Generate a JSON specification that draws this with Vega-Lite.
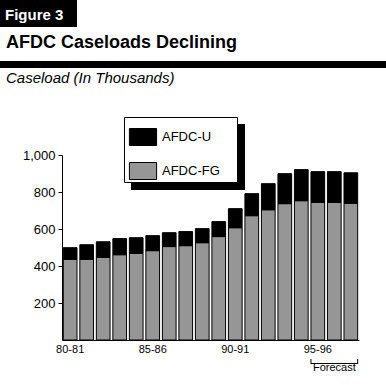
{
  "$schema": "https://vega.github.io/schema/vega-lite/v6.json",
  "autosize": "none",
  "width": 297,
  "height": 185,
  "padding": {"left": 62, "top": 155, "right": 27, "bottom": 45},
  "background": "white",
  "config": {
    "view": {"stroke": null},
    "font": "Liberation Sans",
    "text": {"font": "Liberation Sans", "color": "black"}
  },
  "datasets": {
    "bars": [
      {"year": "80-81", "series": "AFDC-FG", "caseload": 436},
      {"year": "80-81", "series": "AFDC-U", "caseload": 63},
      {"year": "81-82", "series": "AFDC-FG", "caseload": 436},
      {"year": "81-82", "series": "AFDC-U", "caseload": 79},
      {"year": "82-83", "series": "AFDC-FG", "caseload": 447},
      {"year": "82-83", "series": "AFDC-U", "caseload": 84},
      {"year": "83-84", "series": "AFDC-FG", "caseload": 461},
      {"year": "83-84", "series": "AFDC-U", "caseload": 87},
      {"year": "84-85", "series": "AFDC-FG", "caseload": 468},
      {"year": "84-85", "series": "AFDC-U", "caseload": 85},
      {"year": "85-86", "series": "AFDC-FG", "caseload": 483},
      {"year": "85-86", "series": "AFDC-U", "caseload": 81},
      {"year": "86-87", "series": "AFDC-FG", "caseload": 505},
      {"year": "86-87", "series": "AFDC-U", "caseload": 75},
      {"year": "87-88", "series": "AFDC-FG", "caseload": 510},
      {"year": "87-88", "series": "AFDC-U", "caseload": 76},
      {"year": "88-89", "series": "AFDC-FG", "caseload": 526},
      {"year": "88-89", "series": "AFDC-U", "caseload": 76},
      {"year": "89-90", "series": "AFDC-FG", "caseload": 559},
      {"year": "89-90", "series": "AFDC-U", "caseload": 81},
      {"year": "90-91", "series": "AFDC-FG", "caseload": 607},
      {"year": "90-91", "series": "AFDC-U", "caseload": 103},
      {"year": "91-92", "series": "AFDC-FG", "caseload": 672},
      {"year": "91-92", "series": "AFDC-U", "caseload": 119},
      {"year": "92-93", "series": "AFDC-FG", "caseload": 704},
      {"year": "92-93", "series": "AFDC-U", "caseload": 141},
      {"year": "93-94", "series": "AFDC-FG", "caseload": 737},
      {"year": "93-94", "series": "AFDC-U", "caseload": 162},
      {"year": "94-95", "series": "AFDC-FG", "caseload": 753},
      {"year": "94-95", "series": "AFDC-U", "caseload": 168},
      {"year": "95-96", "series": "AFDC-FG", "caseload": 744},
      {"year": "95-96", "series": "AFDC-U", "caseload": 166},
      {"year": "96-97", "series": "AFDC-FG", "caseload": 744},
      {"year": "96-97", "series": "AFDC-U", "caseload": 166},
      {"year": "97-98", "series": "AFDC-FG", "caseload": 739},
      {"year": "97-98", "series": "AFDC-U", "caseload": 165}
    ],
    "one": [{"k": 1}],
    "forecast": [{"from": "95-96", "to": "97-98", "mid": "96-97", "label": "Forecast"}]
  },
  "layer": [
    {
      "data": {"name": "bars"},
      "mark": {"type": "bar", "stroke": "black", "strokeWidth": 1},
      "encoding": {
        "x": {
          "field": "year", "type": "nominal", "sort": null,
          "scale": {"paddingInner": 0.17, "paddingOuter": 0.08},
          "axis": {
            "title": null, "labelAngle": 0, "ticks": false,
            "values": ["80-81", "85-86", "90-91", "95-96"],
            "labelFont": "Liberation Sans", "labelFontSize": 11, "labelColor": "black",
            "labelPadding": 3, "domainColor": "black", "domainWidth": 1
          }
        },
        "y": {
          "field": "caseload", "type": "quantitative", "stack": "zero",
          "scale": {"domain": [0, 1000], "nice": false},
          "axis": {
            "title": null, "grid": false, "values": [200, 400, 600, 800, 1000], "format": ",.0f",
            "labelFont": "Liberation Sans", "labelFontSize": 13, "labelColor": "black",
            "labelPadding": 3, "tickSize": 4, "tickColor": "black", "domainColor": "black"
          }
        },
        "color": {
          "field": "series", "type": "nominal",
          "scale": {"domain": ["AFDC-U", "AFDC-FG"], "range": ["#000000", "#969696"]},
          "legend": {
            "orient": "none", "legendX": 72, "legendY": -27, "title": null, "padding": 0,
            "symbolType": "M-1.6,-1H1.6V1H-1.6Z", "symbolSize": 289,
            "labelOffset": 10, "rowPadding": 12,
            "labelFont": "Liberation Sans", "labelFontSize": 13, "labelColor": "black",
            "symbolStrokeColor": "black", "symbolStrokeWidth": 1, "symbolOpacity": 1
          }
        },
        "order": {"field": "series", "sort": "ascending"}
      }
    },
    {
      "data": {"name": "one"},
      "mark": {"type": "rect", "fill": "black"},
      "encoding": {"x": {"value": -62}, "x2": {"value": 15}, "y": {"value": -155}, "y2": {"value": -128}}
    },
    {
      "data": {"name": "one"},
      "mark": {"type": "rect", "fill": "black"},
      "encoding": {"x": {"value": -62}, "x2": {"value": 324}, "y": {"value": -94}, "y2": {"value": -87}}
    },
    {
      "data": {"name": "one"},
      "mark": {"type": "rect", "fill": "black"},
      "encoding": {"x": {"value": 69}, "x2": {"value": 183}, "y": {"value": -31}, "y2": {"value": 35}}
    },
    {
      "data": {"name": "one"},
      "mark": {"type": "rect", "fill": "white", "stroke": "black", "strokeWidth": 1},
      "encoding": {"x": {"value": 62.5}, "x2": {"value": 175.5}, "y": {"value": -37.5}, "y2": {"value": 27.5}}
    },
    {
      "data": {"values": [{"t": "Figure 3"}]},
      "mark": {"type": "text", "align": "left", "baseline": "alphabetic", "fontSize": 15, "fontWeight": "bold", "color": "white"},
      "encoding": {"text": {"field": "t"}, "x": {"value": -57}, "y": {"value": -135}}
    },
    {
      "data": {"values": [{"t": "AFDC Caseloads Declining"}]},
      "mark": {"type": "text", "align": "left", "baseline": "alphabetic", "fontSize": 18, "fontWeight": "bold", "color": "black"},
      "encoding": {"text": {"field": "t"}, "x": {"value": -56}, "y": {"value": -107.3}}
    },
    {
      "data": {"values": [{"t": "Caseload (In Thousands)"}]},
      "mark": {"type": "text", "align": "left", "baseline": "alphabetic", "fontSize": 15, "fontStyle": "italic", "color": "black"},
      "encoding": {"text": {"field": "t"}, "x": {"value": -56}, "y": {"value": -71.7}}
    },
    {
      "data": {"name": "forecast"},
      "mark": {"type": "rule", "color": "black", "strokeWidth": 1},
      "encoding": {
        "x": {"field": "from", "type": "nominal", "bandPosition": 0},
        "x2": {"field": "to", "bandPosition": 1},
        "y": {"value": 208.5}
      }
    },
    {
      "data": {"name": "forecast"},
      "mark": {"type": "rule", "color": "black", "strokeWidth": 1},
      "encoding": {
        "x": {"field": "from", "type": "nominal", "bandPosition": 0},
        "y": {"value": 204}, "y2": {"value": 209}
      }
    },
    {
      "data": {"name": "forecast"},
      "mark": {"type": "rule", "color": "black", "strokeWidth": 1},
      "encoding": {
        "x": {"field": "to", "type": "nominal", "bandPosition": 1},
        "y": {"value": 204}, "y2": {"value": 209}
      }
    },
    {
      "data": {"name": "forecast"},
      "mark": {"type": "text", "align": "center", "baseline": "alphabetic", "fontSize": 11, "color": "black"},
      "encoding": {
        "text": {"field": "label"},
        "x": {"field": "mid", "type": "nominal"},
        "y": {"value": 215.7}
      }
    }
  ]
}
